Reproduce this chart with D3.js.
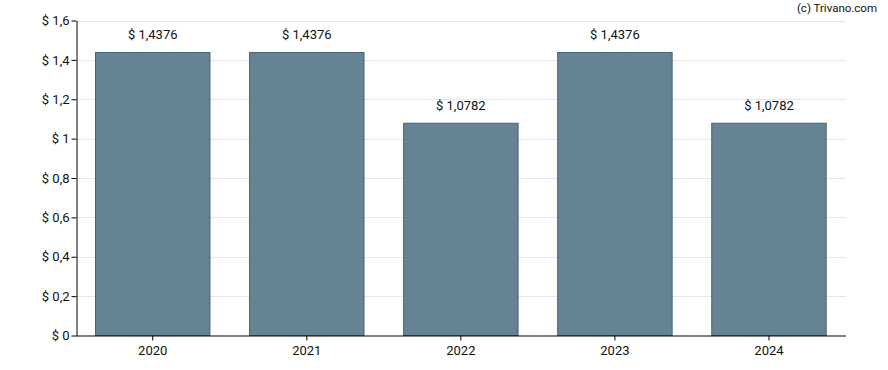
<!DOCTYPE html>
<html><head><meta charset="utf-8">
<script src="https://cdn.jsdelivr.net/npm/d3@7"></script>
<style>body{margin:0;background:#fff}svg{display:block;font-family:Roboto,sans-serif}</style>
</head><body><svg id="c" width="888" height="370"></svg>
<script>
const years = ["2020","2021","2022","2023","2024"];
const values = [1.4376,1.4376,1.0782,1.4376,1.0782];
const yTicks = [0,0.2,0.4,0.6,0.8,1,1.2,1.4,1.6];

const svg = d3.select("#c");
const L=76.5, R=846, T=20.5, B=335.5;
const x = d3.scaleBand().domain(years).range([L-0.8,R]).paddingInner(0.257).paddingOuter(0.1285);
const y = d3.scaleLinear().domain([0,1.6]).range([B,T]);
const fmt = v => "$ " + String(+v.toFixed(4)).replace(".", ",");

svg.append("g").selectAll("line").data(yTicks.filter(d=>d>0)).join("line")
  .attr("x1",L).attr("x2",R).attr("y1",d=>Math.round(y(d))+0.5).attr("y2",d=>Math.round(y(d))+0.5)
  .attr("stroke","#e6e6e6").attr("stroke-width",1);

svg.append("g").selectAll("rect").data(values).join("rect")
  .attr("x",(d,i)=>x(years[i])).attr("width",x.bandwidth())
  .attr("y",d=>y(d)).attr("height",d=>B-y(d))
  .attr("fill","#668394").attr("stroke","#4b6475").attr("stroke-width",1);

svg.append("g").selectAll("text").data(values).join("text")
  .attr("x",(d,i)=>x(years[i])+x.bandwidth()/2).attr("y",d=>y(d)-13)
  .attr("text-anchor","middle").attr("font-size",13).attr("fill","#111")
  .text(d=>fmt(d));

const ya = svg.append("g").attr("transform",`translate(${L},0)`)
  .call(d3.axisLeft(y).tickValues(yTicks).tickSize(5).tickSizeOuter(0).tickFormat(fmt));
ya.select(".domain").attr("stroke","#000");
ya.selectAll(".tick line").attr("stroke","#000");
ya.selectAll("text").attr("font-size",13).attr("fill","#111").attr("font-family","Roboto,sans-serif").attr("x",-7);

const xa = svg.append("g").attr("transform",`translate(0,${B})`)
  .call(d3.axisBottom(x).tickSize(5).tickSizeOuter(0));
xa.select(".domain").attr("stroke","#000").attr("d",`M${L},0.5H${R}`);
xa.selectAll(".tick line").attr("stroke","#000");
xa.selectAll("text").attr("font-size",13).attr("fill","#111").attr("font-family","Roboto,sans-serif").attr("y",10);

svg.append("text").attr("x",877).attr("y",12).attr("text-anchor","end")
  .attr("font-size",11.5).attr("fill","#111").text("(c) Trivano.com");
</script></body></html>
